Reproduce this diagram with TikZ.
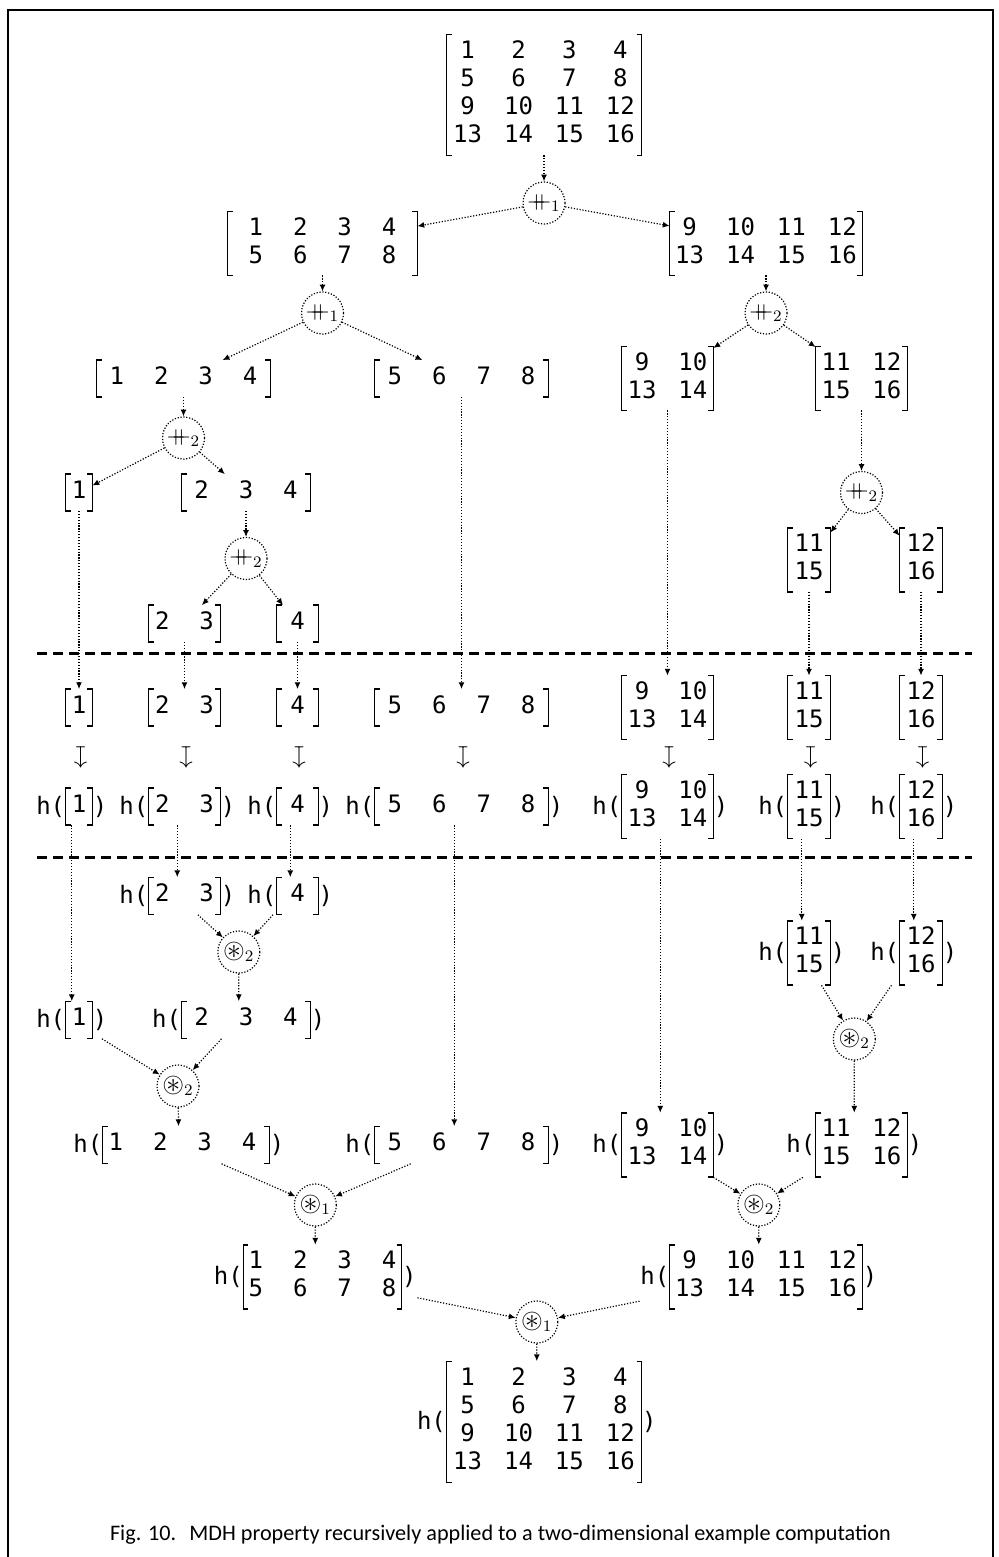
\documentclass[tikz,border=0pt]{standalone}
\usepackage{fontspec}
\usepackage{amssymb}
\usepackage{array}
\usetikzlibrary{arrows.meta,fit,calc}
\newfontfamily\monof{DejaVu Sans Mono}
\newfontfamily\capfont{Carlito}
\newcommand\monot{\monof\fontsize{12}{14}\selectfont}
\newcommand\pp{\mathbin{+\mkern-9.5mu+}}
\newcommand\ca{\mathbin{\mbox{\fontsize{14}{14}\selectfont$\circledast$}}}
\newcolumntype{O}[1]{@{\hspace{#1}}}
\newcolumntype{Y}{@{\hspace{11pt}}}
\newcolumntype{Z}{@{\hspace{15pt}}}
\tikzset{
  mat/.style={inner sep=0pt, font=\monot},
  txt/.style={inner sep=0pt, font=\monot},
  brk/.style={line width=0.65pt},
  arr/.style={-{Latex[length=3.4pt,width=3pt]}, line width=0.6pt, dash pattern=on 0.6pt off 0.85pt},
  op/.style={circle, draw, line width=0.6pt, dash pattern=on 0.6pt off 0.85pt, minimum size=21pt, inner sep=0pt, font=\fontsize{12}{14}\selectfont},
  sepline/.style={line width=1.5pt, dash pattern=on 5pt off 3pt},
  mapd/.style={rotate=-90, inner sep=0pt, font=\fontsize{12}{14}\selectfont},
  frame/.style={line width=0.6pt},
}
\newcommand\MX[5]{%
  \node[mat, minimum height=#3] (#1) at (#2) {\begin{tabular}{#4}#5\end{tabular}};
  \draw[brk] ([xshift=2.6pt]#1.north west) -- (#1.north west) -- (#1.south west) -- ([xshift=2.6pt]#1.south west);
  \draw[brk] ([xshift=-2.6pt]#1.north east) -- (#1.north east) -- (#1.south east) -- ([xshift=-2.6pt]#1.south east);
}
\newcommand\HX[5]{%
  \MX{#1m}{#2}{#3}{#4}{#5}
  \node[txt, anchor=east] (#1l) at (#1m.west) {h(};
  \node[txt, anchor=west] (#1r) at (#1m.east) {)};
  \node[fit=(#1l)(#1m)(#1r), inner sep=0pt] (#1) {};
}
\begin{document}
\begin{tikzpicture}[x=0.5pt,y=-0.5pt]
\useasboundingbox (0,0) rectangle (999,1557);
% frame
\coordinate (f1) at (8,1557);
\coordinate (f2) at (8,10);
\coordinate (f3) at (993,10);
\coordinate (f4) at (993,1557);
\draw[frame] (f1) -- (f2) -- (f3) -- (f4);
% separators
\coordinate (s1a) at (37,653);
\coordinate (s1b) at (972,653);
\coordinate (s2a) at (37,857);
\coordinate (s2b) at (972,857);
\draw[sepline] (s1a) -- (s1b);
\draw[sepline] (s2a) -- (s2b);

% ---------- splitting ----------
\MX{T}{544,95}{60pt}{O{3.25pt}cYcYcYcO{3.25pt}}{1&2&3&4\\5&6&7&8\\9&10&11&12\\13&14&15&16}
\node[op] (A) at (544,203) {$\pp_1$};
\MX{ML}{322.5,243.5}{31.5pt}{O{10.3pt}cZcZcZcO{10.3pt}}{1&2&3&4\\5&6&7&8}
\MX{MR}{766,243.5}{31.5pt}{O{2.6pt}cYcYcYcO{2.6pt}}{9&10&11&12\\13&14&15&16}
\node[op] (B) at (322.5,313) {$\pp_1$};
\node[op] (C) at (766,313) {$\pp_2$};
\MX{V1}{183.5,378.5}{18pt}{O{6.3pt}cZcZcZcO{6.3pt}}{1&2&3&4}
\MX{V2}{461.5,378.5}{18pt}{O{6.3pt}cZcZcZcO{6.3pt}}{5&6&7&8}
\MX{M9}{667.5,378.5}{31.5pt}{O{2.8pt}cYcO{2.8pt}}{9&10\\13&14}
\MX{M11}{861.5,378.5}{31.5pt}{O{2.8pt}cYcO{2.8pt}}{11&12\\15&16}
\node[op] (D) at (183.5,438) {$\pp_2$};
\node[op] (J) at (861.5,492.5) {$\pp_2$};
\MX{E}{79,492.5}{18pt}{O{2.9pt}cO{2.9pt}}{1}
\MX{F}{246,492.5}{18pt}{O{6.2pt}cZcZcO{6.2pt}}{2&3&4}
\node[op] (G) at (246,558.5) {$\pp_2$};
\MX{H}{184.5,623.5}{18pt}{O{3pt}cZcO{3pt}}{2&3}
\MX{I}{297.5,623.5}{18pt}{O{6.6pt}cO{6.6pt}}{4}
\MX{K}{809,560}{31.5pt}{O{3.3pt}cO{3.3pt}}{11\\15}
\MX{L}{921,560}{31.5pt}{O{3.3pt}cO{3.3pt}}{12\\16}

\draw[arr] (T) -- (A);
\draw[arr] (A) -- (ML);
\draw[arr] (A) -- (MR);
\draw[arr] (ML) -- (B);
\draw[arr] (MR) -- (C);
\draw[arr] (B) -- (V1);
\draw[arr] (B) -- (V2);
\draw[arr] (C) -- (M9);
\draw[arr] (C) -- (M11);
\draw[arr] (V1) -- (D);
\draw[arr] (D) -- (E);
\draw[arr] (D) -- (F);
\draw[arr] (F) -- (G);
\draw[arr] (G) -- (H);
\draw[arr] (G) -- (I);
\draw[arr] (M11) -- (J);
\draw[arr] (J) -- (K);
\draw[arr] (J) -- (L);

% ---------- leaves ----------
\MX{E5}{79,707.5}{18pt}{O{2.9pt}cO{2.9pt}}{1}
\MX{H5}{184.5,707.5}{18pt}{O{3pt}cZcO{3pt}}{2&3}
\MX{I5}{297.5,707.5}{18pt}{O{6.6pt}cO{6.6pt}}{4}
\MX{V25}{461.5,707.5}{18pt}{O{6.3pt}cZcZcZcO{6.3pt}}{5&6&7&8}
\MX{M95}{667.5,707.5}{31.5pt}{O{2.8pt}cYcO{2.8pt}}{9&10\\13&14}
\MX{K5}{809,707.5}{31.5pt}{O{3.3pt}cO{3.3pt}}{11\\15}
\MX{L5}{921,707.5}{31.5pt}{O{3.3pt}cO{3.3pt}}{12\\16}
\draw[arr] (E) -- (E5);
\draw[arr] (H) -- (H5);
\draw[arr] (I) -- (I5);
\draw[arr] (V2) -- (V25);
\draw[arr] (M9) -- (M95);
\draw[arr] (K) -- (K5);
\draw[arr] (L) -- (L5);

\node[mapd] (t1) at (79,757) {$\mapsto$};
\node[mapd] (t2) at (184.5,757) {$\mapsto$};
\node[mapd] (t3) at (297.5,757) {$\mapsto$};
\node[mapd] (t4) at (461.5,757) {$\mapsto$};
\node[mapd] (t5) at (667.5,757) {$\mapsto$};
\node[mapd] (t6) at (809,757) {$\mapsto$};
\node[mapd] (t7) at (921,757) {$\mapsto$};

\HX{hE6}{79,806.5}{18pt}{O{2.9pt}cO{2.9pt}}{1}
\HX{hH6}{184.5,806.5}{18pt}{O{3pt}cZcO{3pt}}{2&3}
\HX{hI6}{297.5,806.5}{18pt}{O{6.6pt}cO{6.6pt}}{4}
\HX{hV26}{461.5,806.5}{18pt}{O{6.3pt}cZcZcZcO{6.3pt}}{5&6&7&8}
\HX{hM96}{667.5,806.5}{31.5pt}{O{2.8pt}cYcO{2.8pt}}{9&10\\13&14}
\HX{hK6}{809,806.5}{31.5pt}{O{3.3pt}cO{3.3pt}}{11\\15}
\HX{hL6}{921,806.5}{31.5pt}{O{3.3pt}cO{3.3pt}}{12\\16}

% ---------- combining ----------
\HX{hH7}{184.5,896}{18pt}{O{3pt}cZcO{3pt}}{2&3}
\HX{hI7}{297.5,896}{18pt}{O{6.6pt}cO{6.6pt}}{4}
\HX{hK7}{809,953}{31.5pt}{O{3.3pt}cO{3.3pt}}{11\\15}
\HX{hL7}{921,953}{31.5pt}{O{3.3pt}cO{3.3pt}}{12\\16}
\node[op] (P) at (238.8,952) {$\ca_2$};
\HX{hE8}{79,1020}{18pt}{O{2.9pt}cO{2.9pt}}{1}
\HX{hF8}{246,1020}{18pt}{O{6.2pt}cZcZcO{6.2pt}}{2&3&4}
\node[op] (R) at (854.3,1039) {$\ca_2$};
\node[op] (Q) at (178,1086) {$\ca_2$};
\HX{hV19}{186,1145}{18pt}{O{2.8pt}cZcZcZcO{6.3pt}}{1&2&3&4}
\HX{hV29}{461.5,1145}{18pt}{O{6.3pt}cZcZcZcO{6.3pt}}{5&6&7&8}
\HX{hM99}{667.5,1145}{31.5pt}{O{2.8pt}cYcO{2.8pt}}{9&10\\13&14}
\HX{hM119}{861.5,1145}{31.5pt}{O{2.8pt}cYcO{2.8pt}}{11&12\\15&16}
\node[op] (U) at (315.3,1205) {$\ca_1$};
\node[op] (S) at (758.8,1205) {$\ca_2$};
\HX{hML10}{322.5,1277}{31.5pt}{O{2.5pt}cZcZcZcO{2.5pt}}{1&2&3&4\\5&6&7&8}
\HX{hMR10}{766,1277}{31.5pt}{O{2.6pt}cYcYcYcO{2.6pt}}{9&10&11&12\\13&14&15&16}
\node[op] (V) at (536.8,1322) {$\ca_1$};
\HX{hT}{544,1422}{60pt}{O{3.25pt}cYcYcYcO{3.25pt}}{1&2&3&4\\5&6&7&8\\9&10&11&12\\13&14&15&16}

\draw[arr] (hE6) -- (hE8);
\draw[arr] (hH6) -- (hH7);
\draw[arr] (hI6) -- (hI7);
\draw[arr] (hV26) -- (hV29);
\draw[arr] (hM96) -- (hM99);
\draw[arr] (hK6) -- (hK7);
\draw[arr] (hL6) -- (hL7);
\draw[arr] (hH7) -- (P);
\draw[arr] (hI7) -- (P);
\draw[arr] (P) -- (hF8);
\draw[arr] (hE8) -- (Q);
\draw[arr] (hF8) -- (Q);
\draw[arr] (Q) -- (hV19);
\draw[arr] (hK7) -- (R);
\draw[arr] (hL7) -- (R);
\draw[arr] (R) -- (hM119);
\draw[arr] (hV19) -- (U);
\draw[arr] (hV29) -- (U);
\draw[arr] (U) -- (hML10);
\draw[arr] (hM99) -- (S);
\draw[arr] (hM119) -- (S);
\draw[arr] (S) -- (hMR10);
\draw[arr] (hML10) -- (V);
\draw[arr] (hMR10) -- (V);
\draw[arr] (V) -- (hT);

\node[anchor=base, inner sep=0pt, font=\capfont\fontsize{11.1}{13}\selectfont] (cap) at (500.5,1540)
  {Fig. 10.\hspace{0.6em}MDH property recursively applied to a two-dimensional example computation};
\end{tikzpicture}
\end{document}
